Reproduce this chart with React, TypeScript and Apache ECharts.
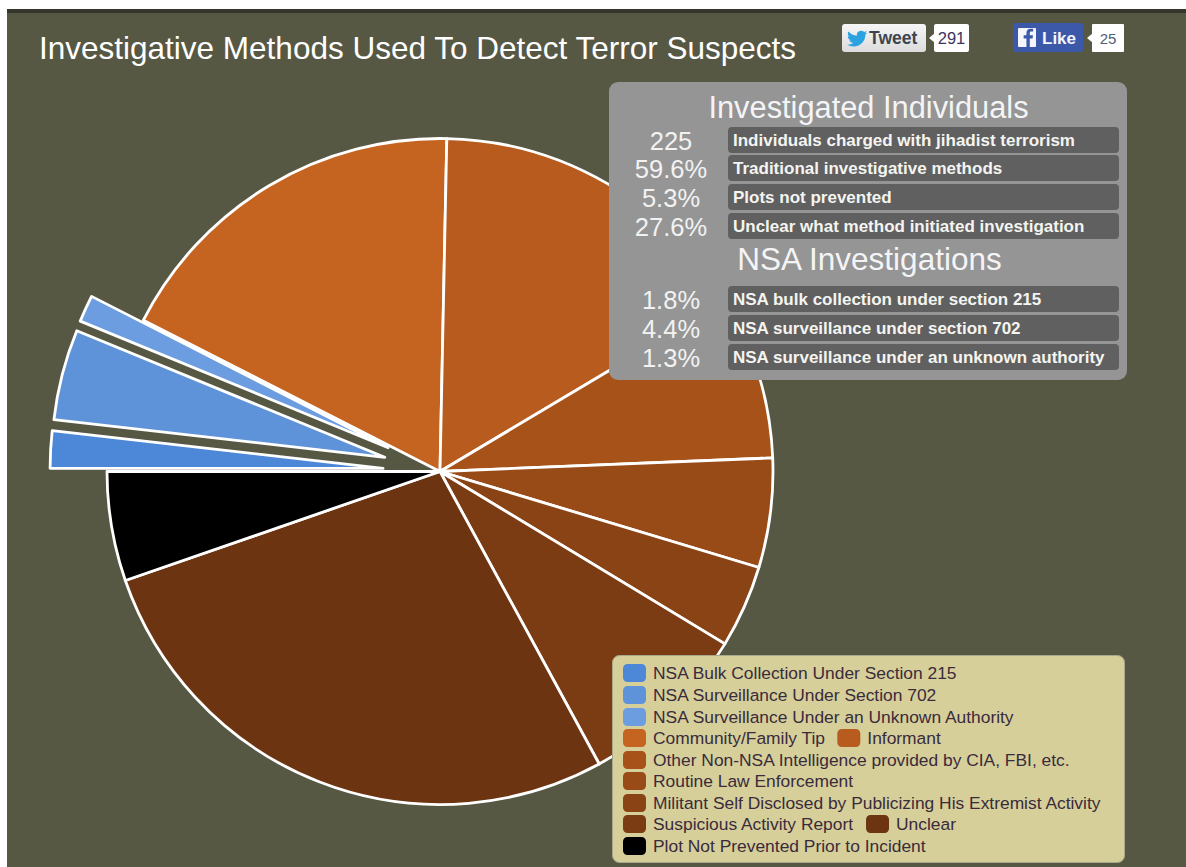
import React, { useEffect, useRef } from "react";
import * as echarts from "echarts";

// Slice order runs clockwise from the nine o'clock position.
const sliceNames = [
  "NSA Bulk Collection Under Section 215",
  "NSA Surveillance Under Section 702",
  "NSA Surveillance Under an Unknown Authority",
  "Community/Family Tip",
  "Informant",
  "Other Non-NSA Intelligence provided by CIA, FBI, etc.",
  "Routine Law Enforcement",
  "Militant Self Disclosed by Publicizing His Extremist Activity",
  "Suspicious Activity Report",
  "Unclear",
  "Plot Not Prevented Prior to Incident",
];
const sliceValues = [1.8, 4.4, 1.3, 17.8, 16.1, 7.9, 5.3, 4.0, 8.4, 27.6, 5.3];
const sliceColors = [
  "#4d87d8", "#5f93d9", "#6b9de0", "#c46420", "#b85b1e", "#a65219",
  "#984a17", "#8a4315", "#7c3c13", "#6c3410", "#000000",
];
const explodedSlices = [0, 1, 2];

const individualStats = ["225", "59.6%", "5.3%", "27.6%"];
const individualLabels = [
  "Individuals charged with jihadist terrorism",
  "Traditional investigative methods",
  "Plots not prevented",
  "Unclear what method initiated investigation",
];
const nsaStats = ["1.8%", "4.4%", "1.3%"];
const nsaLabels = [
  "NSA bulk collection under section 215",
  "NSA surveillance under section 702",
  "NSA surveillance under an unknown authority",
];

const tweetCount = "291";
const likeCount = "25";

// Each legend row is its own legend component so two entries can share a line.
const legendRows = [[0], [1], [2], [3, 4], [5], [6], [7], [8, 9], [10]];
const legendRowTops = [664, 686, 708, 729, 751, 772, 794, 815, 837];

const FONT = '"Liberation Sans", Arial, sans-serif';

echarts.graphic.registerShape(
  "twitterBird",
  echarts.graphic.extendPath(
    "M23.953 4.57a10 10 0 0 1 -2.825 .775a4.958 4.958 0 0 0 2.163 -2.723c-.951 .555 -2.005 .959 -3.127 1.184a4.92 4.92 0 0 0 -8.384 4.482C7.69 8.095 4.067 6.13 1.64 3.162a4.822 4.822 0 0 0 -.666 2.475c0 1.71 .87 3.213 2.188 4.096a4.904 4.904 0 0 1 -2.228 -.616v.06a4.923 4.923 0 0 0 3.946 4.827a4.996 4.996 0 0 1 -2.212 .085a4.936 4.936 0 0 0 4.604 3.417a9.867 9.867 0 0 1 -6.102 2.105c-.39 0 -.779 -.023 -1.17 -.067a13.995 13.995 0 0 0 7.557 2.209c9.053 0 13.998 -7.496 13.998 -13.985c0 -.21 0 -.42 -.015 -.63A9.935 9.935 0 0 0 24 4.59z",
    {}
  )
);
echarts.graphic.registerShape(
  "facebookF",
  echarts.graphic.extendPath(
    "M11 24V13h3.5l.5-4h-4V6.500c0-1.200.3-2 2-2h2.200V1c-.4 0-1.700-.2-3.200-.2C8.900.8 6.800 2.700 6.800 6.100V9H3.300v4h3.500v11z",
    {}
  )
);

const rect = (x: number, y: number, w: number, h: number, r: number, style: any, z = 10) => ({
  type: "rect",
  z,
  shape: { x, y, width: w, height: h, r },
  style,
});

const text = (x: number, y: number, value: string, font: string, fill: string, align = "left", z = 12) => ({
  type: "text",
  z,
  x,
  y,
  style: { text: value, font, fill, textAlign: align, textVerticalAlign: "middle" },
});

const buildPanelRows = (stats: string[], labels: string[], tops: number[]) =>
  stats.flatMap((stat, i) => [
    rect(728, tops[i], 391, 26, 4, { fill: "#606060" }, 11),
    text(671, tops[i] + 14, stat, `25.5px ${FONT}`, "#f2f2f2", "center"),
    text(733, tops[i] + 13, labels[i], `bold 17px ${FONT}`, "#f4f4f0"),
  ]);

const buildOption = () => ({
  animation: false,
  backgroundColor: "#ffffff",
  title: {
    text: "Investigative Methods Used To Detect Terror Suspects",
    left: 39,
    top: 32,
    padding: 0,
    textStyle: { color: "#ffffff", fontFamily: FONT, fontSize: 31.5, fontWeight: "normal" },
  },
  legend: legendRows.map((row, i) => ({
    show: true,
    z: 20,
    orient: "horizontal",
    left: 623,
    top: legendRowTops[i],
    padding: 0,
    itemWidth: 23,
    itemHeight: 18,
    itemGap: 12,
    icon: "roundRect",
    selectedMode: false,
    itemStyle: { borderWidth: 0 },
    textStyle: { color: "#3a2b3c", fontFamily: FONT, fontSize: 17.4, padding: [0, 0, 0, 2] },
    data: row.map((idx) => sliceNames[idx]),
  })),
  series: [
    {
      type: "pie",
      z: 5,
      center: [440, 471.5],
      radius: [0, 333],
      startAngle: 180,
      clockwise: true,
      avoidLabelOverlap: false,
      selectedMode: "multiple",
      selectedOffset: 57,
      label: { show: false },
      labelLine: { show: false },
      itemStyle: { borderColor: "#ffffff", borderWidth: 2.8 },
      data: sliceNames.map((name, i) => ({
        name,
        value: sliceValues[i],
        selected: explodedSlices.includes(i),
        itemStyle: { color: sliceColors[i] },
      })),
    },
  ],
  graphic: {
    elements: [
      // Page backdrop with its dark upper rule
      rect(7, 9, 1179, 858, 0, { fill: "#575844" }, -2),
      rect(7, 9, 1179, 4, 0, { fill: "#35352b" }, -1),

      // Share buttons
      rect(842, 24, 84, 28, 3, {
        fill: new echarts.graphic.LinearGradient(0, 0, 0, 1, [
          { offset: 0, color: "#f6f6f6" },
          { offset: 1, color: "#dcdcdc" },
        ]),
      }),
      { type: "twitterBird", z: 12, x: 847, y: 29, scaleX: 0.85, scaleY: 0.8, style: { fill: "#2aa3e0" } },
      text(869, 38, "Tweet", `bold 17.5px ${FONT}`, "#3d4450"),
      { type: "polygon", z: 10, shape: { points: [[929, 38], [935, 33], [935, 43]] }, style: { fill: "#ffffff" } },
      rect(934, 24, 35, 28, 2, { fill: "#ffffff" }),
      text(951.5, 38, tweetCount, `16.5px ${FONT}`, "#3d3560", "center"),

      rect(1013, 23, 70, 29, 3, { fill: "#3c59a9" }),
      rect(1018, 28, 18, 19, 1, { fill: "#f4f6fb" }, 11),
      { type: "facebookF", z: 12, x: 1021, y: 28, scaleX: 0.8, scaleY: 0.8, style: { fill: "#3c59a9" } },
      text(1042, 38, "Like", `bold 17px ${FONT}`, "#f4f6fb"),
      { type: "polygon", z: 10, shape: { points: [[1087, 38], [1093, 33], [1093, 43]] }, style: { fill: "#ffffff" } },
      rect(1092, 24, 32, 28, 1, { fill: "#ffffff" }),
      text(1108, 38, likeCount, `15px ${FONT}`, "#4f6078", "center"),

      // Summary panel
      rect(609, 82, 518, 298, 9, { fill: "#959595" }),
      text(868.5, 107, "Investigated Individuals", `30.8px ${FONT}`, "#f4f4f6", "center"),
      ...buildPanelRows(individualStats, individualLabels, [127, 155, 184, 213]),
      text(869.5, 259, "NSA Investigations", `31.5px ${FONT}`, "#f4f4f6", "center"),
      ...buildPanelRows(nsaStats, nsaLabels, [286, 315, 344]),

      // Backing card for the legend rows
      rect(612.5, 655.5, 512, 207, 7, { fill: "#d6cf9a", stroke: "#a9a78c", lineWidth: 1 }),
    ],
  },
});

export default function App() {
  const ref = useRef<HTMLDivElement>(null);

  useEffect(() => {
    const chart = echarts.init(ref.current!, null, { renderer: "svg" });
    chart.setOption(buildOption() as any);
    return () => chart.dispose();
  }, []);

  return (
    <div
      ref={ref}
      style={{ position: "absolute", left: 0, top: 0, width: 1186, height: 867 }}
    />
  );
}
